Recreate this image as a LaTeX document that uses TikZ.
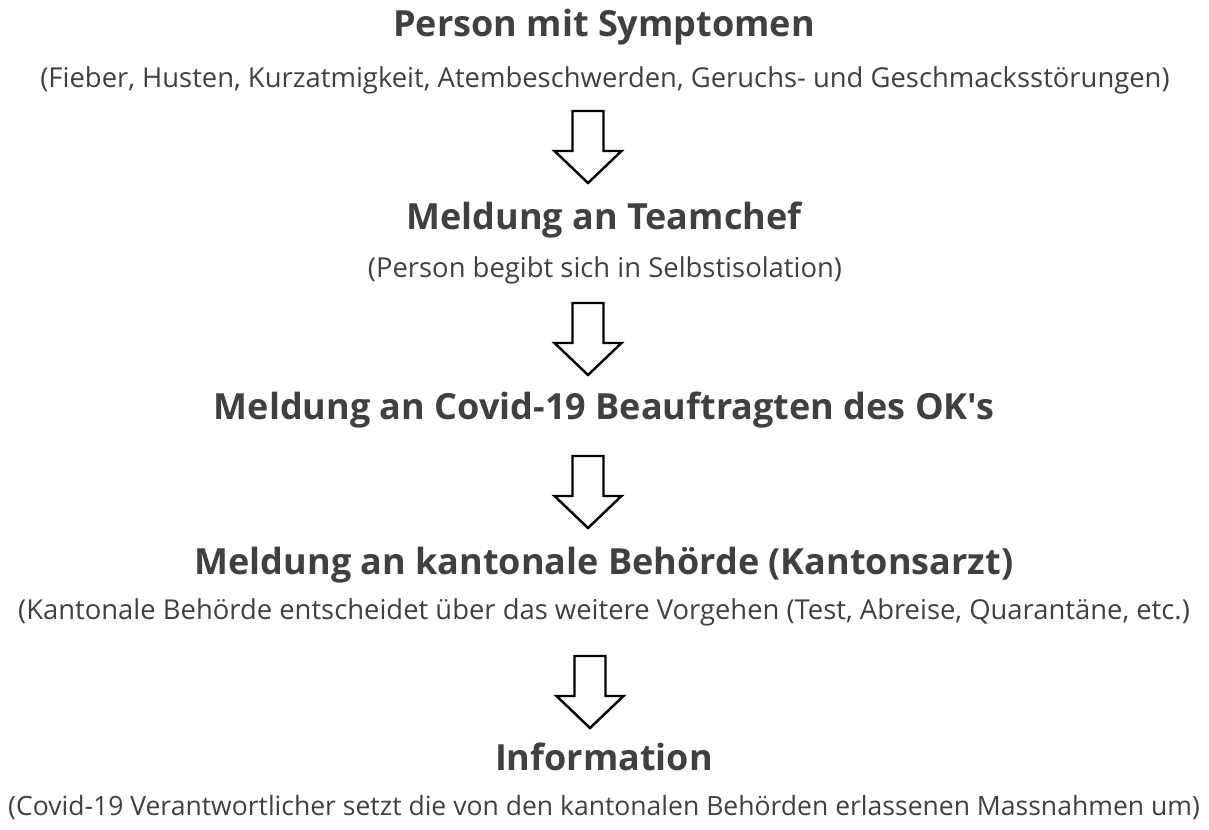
\documentclass[tikz,border=0pt]{standalone}
\usepackage{fontspec}
\setmainfont{Open Sans}[Ligatures=TeXOff]
\definecolor{textgray}{HTML}{404040}
\tikzset{
  titlebox/.style={text=textgray, font=\fontsize{20.5}{24}\selectfont\bfseries, inner sep=0pt},
  notebox/.style={text=textgray, font=\fontsize{15.6}{18}\selectfont, inner sep=0pt},
  blockarrow/.style={draw=black, line width=1.4pt, fill=white, line join=miter},
}
% block arrow pointing down, top of shaft at (#1,#2)
\newcommand{\downblock}[3]{%
  \draw [blockarrow] (#1-15.5,#2) -- (#1+15.5,#2) -- (#1+15.5,#2+40) -- (#1+33.5,#2+40)
    -- (#1,#2+72) -- (#1-33.5,#2+40) -- (#1-15.5,#2+40) -- cycle;
  \coordinate (#3) at (#1,#2+72);}
\begin{document}
\begin{tikzpicture}[x=0.02cm, y=-0.02cm]

    \useasboundingbox (0,0) rectangle (1209,830);

    \node [titlebox] at (604,27) (title1) {Person mit Symptomen};
    \node [notebox] at (605,80) (note1) {(Fieber, Husten, Kurzatmigkeit, Atembeschwerden, Geruchs- und Geschmacksstörungen)};
    \downblock{588}{111}{arr1}

    \node [titlebox] at (604,220) (title2) {Meldung an Teamchef};
    \node [notebox] at (605,270) (note2) {(Person begibt sich in Selbstisolation)};
    \downblock{588}{303}{arr2}

    \node [titlebox] at (604,410) (title3) {Meldung an Covid-19 Beauftragten des OK's};
    \downblock{588}{456}{arr3}

    \node [titlebox] at (604,565) (title4) {Meldung an kantonale Behörde (Kantonsarzt)};
    \node [notebox] at (604,612) (note4) {(Kantonale Behörde entscheidet über das weitere Vorgehen (Test, Abreise, Quarantäne, etc.)};
    \downblock{590}{656}{arr4}

    \node [titlebox] at (604,757) (title5) {Information};
    \node [notebox, font=\fontsize{15.1}{18}\selectfont] at (604,808) (note5) {(Covid-19 Verantwortlicher setzt die von den kantonalen Behörden erlassenen Massnahmen um)};

\end{tikzpicture}
\end{document}
